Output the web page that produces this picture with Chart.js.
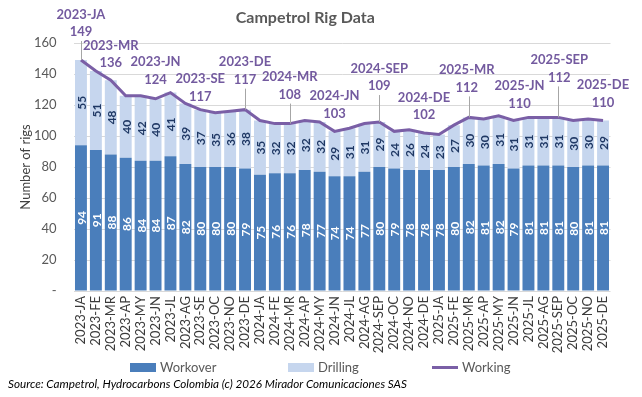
<!DOCTYPE html>
<html>
<head>
<meta charset="utf-8">
<title>Campetrol Rig Data</title>
<script src="https://cdn.jsdelivr.net/npm/chart.js@4.4.1/dist/chart.umd.min.js"></script>
<style>
    body { margin: 0; background: #fff; font-family: Lato, 'Liberation Sans', sans-serif; }
    #wrap { position: relative; width: 642px; height: 397px; }
    #legend { position: absolute; top: 359px; left: 0; width: 642px; height: 16px; font-size: 13px; color: #595959; }
    .item { position: absolute; top: 0; height: 16px; display: flex; align-items: center; }
    .swatch { width: 26px; height: 9px; margin-right: 4px; }
    .stroke { width: 26px; height: 3px; margin-right: 4px; }
    #source { position: absolute; left: 8px; top: 376px; font-size: 11.7px; font-style: italic; color: #000; white-space: nowrap; }
</style>
</head>
<body>
<div id="wrap">
    <canvas id="rig-chart"></canvas>
    <div id="legend"></div>
    <div id="source">Source: Campetrol, Hydrocarbons Colombia (c) 2026 Mirador Comunicaciones SAS</div>
</div>
<script>
// Data
const months = [
    '2023-JA', '2023-FE', '2023-MR', '2023-AP', '2023-MY', '2023-JN', '2023-JL', '2023-AG', '2023-SE', '2023-OC', '2023-NO', '2023-DE',
    '2024-JA', '2024-FE', '2024-MR', '2024-AP', '2024-MY', '2024-JN', '2024-JL', '2024-AG', '2024-SEP', '2024-OC', '2024-NO', '2024-DE',
    '2025-JA', '2025-FE', '2025-MR', '2025-AP', '2025-MY', '2025-JN', '2025-JL', '2025-AG', '2025-SEP', '2025-OC', '2025-NO', '2025-DE'
];
const workover = [94, 91, 88, 86, 84, 84, 87, 82, 80, 80, 80, 79,
    75, 76, 76, 78, 77, 74, 74, 77, 80, 79, 78, 78,
    78, 80, 82, 81, 82, 79, 81, 81, 81, 80, 81, 81];
const drilling = [55, 51, 48, 40, 42, 40, 41, 39, 37, 35, 36, 38,
    35, 32, 32, 32, 32, 29, 31, 31, 29, 24, 26, 24,
    23, 27, 30, 30, 31, 31, 31, 31, 31, 30, 30, 29];
const working = [149, 142, 136, 126, 126, 124, 128, 121, 117, 115, 116, 117,
    110, 108, 108, 110, 109, 103, 105, 108, 109, 103, 104, 102,
    101, 107, 112, 111, 113, 110, 112, 112, 112, 110, 111, 110];
const yTicks = [0, 20, 40, 60, 80, 100, 120, 140, 160];

// Months that get a callout on the Working line
const calloutIdx = [0, 2, 5, 8, 11, 14, 17, 20, 23, 26, 29, 32, 35];
const calloutLift = [28, 17, 19, 13, 30, 29, 18, 36, 18, 30, 17, 40, 18];
const calloutShift = [0, 0, 0, 0, 0, 0, 0, 0, 0, -2, 6, 1, 0];

const colors = {
    workover: '#4a7ebb',
    drilling: '#c6d6ee',
    working: '#7a5fa6',
    label: '#735a9f',
    text: '#595959'
};

// Values inside the bars, rotated
const barLabels = {
    id: 'barLabels',
    afterDatasetsDraw(chart) {
        const ctx = chart.ctx;
        ctx.save();
        ctx.font = 'bold 12px Lato';
        ctx.textAlign = 'center';
        ctx.textBaseline = 'middle';
        [0, 1].forEach(di => {
            const meta = chart.getDatasetMeta(di);
            const values = chart.data.datasets[di].data;
            ctx.fillStyle = di === 0 ? '#ffffff' : '#1f3864';
            meta.data.forEach((bar, i) => {
                const cy = (bar.y + bar.base) / 2;
                ctx.save();
                ctx.translate(bar.x, cy);
                ctx.rotate(-Math.PI / 2);
                ctx.fillText(String(values[i]), 0, 1);
                ctx.restore();
            });
        });
        ctx.restore();
    }
};

// Month + total callouts above the Working line
const callouts = {
    id: 'callouts',
    afterDatasetsDraw(chart) {
        const ctx = chart.ctx;
        const meta = chart.getDatasetMeta(2);
        ctx.save();
        ctx.font = 'bold 13px Lato';
        ctx.textAlign = 'center';
        ctx.textBaseline = 'middle';
        calloutIdx.forEach((i, k) => {
            const pt = meta.data[i];
            const vy = pt.y - calloutLift[k];
            const x = pt.x + calloutShift[k];
            if (calloutLift[k] > 24) {
                ctx.strokeStyle = '#a6a6a6';
                ctx.lineWidth = 1;
                ctx.beginPath();
                ctx.moveTo(Math.round(pt.x) + 0.5, vy + 9);
                ctx.lineTo(Math.round(pt.x) + 0.5, pt.y);
                ctx.stroke();
            }
            ctx.fillStyle = colors.label;
            ctx.fillText(String(working[i]), x, vy);
            ctx.fillText(months[i], x, vy - 17.5);
        });
        ctx.restore();
    }
};

const chart = new Chart(document.getElementById('rig-chart'), {
    type: 'bar',
    data: {
        labels: months,
        datasets: [
            {
                label: 'Workover',
                data: workover,
                backgroundColor: colors.workover,
                stack: 'rigs',
                order: 1,
                barPercentage: 0.8,
                categoryPercentage: 1
            },
            {
                label: 'Drilling',
                data: drilling,
                backgroundColor: colors.drilling,
                stack: 'rigs',
                order: 1,
                barPercentage: 0.8,
                categoryPercentage: 1
            },
            {
                type: 'line',
                label: 'Working',
                data: working,
                borderColor: colors.working,
                backgroundColor: colors.working,
                borderWidth: 3,
                pointRadius: 0,
                tension: 0,
                stack: 'total',
                order: 0
            }
        ]
    },
    options: {
        responsive: true,
        maintainAspectRatio: false,
        animation: false,
        layout: {
            padding: { left: 0, right: 31.5, top: 0, bottom: 36 }
        },
        plugins: {
            legend: { display: false },
            tooltip: { enabled: false },
            title: {
                display: true,
                text: 'Campetrol Rig Data',
                color: colors.text,
                font: { family: 'Lato', size: 16, weight: 'bold' },
                padding: { top: 8, bottom: 15.8 }
            }
        },
        scales: {
            x: {
                stacked: true,
                grid: { display: false, drawTicks: false },
                border: { display: false },
                ticks: {
                    autoSkip: false,
                    minRotation: 90,
                    maxRotation: 90,
                    padding: 5,
                    color: '#3a3a3a',
                    font: { family: 'Lato', size: 13 }
                },
                afterFit: scale => { scale.height = 70; }
            },
            y: {
                stacked: true,
                min: 0,
                max: 160,
                grid: { color: '#d9d9d9', drawTicks: false },
                border: { display: false },
                afterBuildTicks: scale => {
                    scale.ticks = yTicks.map(v => ({ value: v }));
                },
                ticks: {
                    padding: 17,
                    color: colors.text,
                    font: { family: 'Lato', size: 13 },
                    callback: v => (v === 0 ? '-' : v)
                },
                title: {
                    display: true,
                    text: 'Number of rigs',
                    color: '#404040',
                    font: { family: 'Lato', size: 13 },
                    padding: { top: 18, bottom: 0 }
                },
                afterFit: scale => { scale.width = 73.5; }
            }
        }
    },
    plugins: [barLabels, callouts]
});

// Legend built from the datasets
const legendPos = [130, 288, 432];
const legend = document.getElementById('legend');
chart.data.datasets.forEach((ds, i) => {
    const item = document.createElement('div');
    item.className = 'item';
    item.style.left = legendPos[i] + 'px';
    const mark = document.createElement('span');
    mark.className = ds.type === 'line' ? 'stroke' : 'swatch';
    mark.style.background = ds.type === 'line' ? ds.borderColor : ds.backgroundColor;
    const text = document.createElement('span');
    text.textContent = ds.label;
    item.appendChild(mark);
    item.appendChild(text);
    legend.appendChild(item);
});
</script>
</body>
</html>
